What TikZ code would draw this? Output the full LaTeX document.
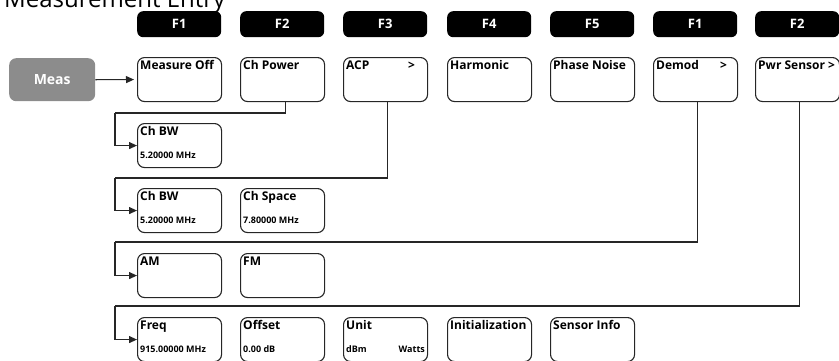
\documentclass[tikz,border=0pt]{standalone}
\usepackage{fontspec}
\setmainfont{Open Sans}
\usetikzlibrary{arrows.meta}
\tikzset{
  fkey/.style={fill=black, rounded corners=6pt, minimum width=84pt, minimum height=26pt, inner sep=0pt,
    text=white, font=\bfseries\fontsize{13}{13}\selectfont, anchor=north west},
  softkey/.style={draw=black!85, line width=1.1pt, rounded corners=7pt, minimum width=84pt, minimum height=44pt,
    inner sep=0pt, anchor=north west},
  lineone/.style={anchor=base west, inner sep=0pt, font=\bfseries\fontsize{12}{12}\selectfont},
  linetwo/.style={anchor=base west, inner sep=0pt, font=\bfseries\fontsize{9}{9}\selectfont},
  conn/.style={draw=black!85, line width=1.1pt},
  arr/.style={conn, -{Triangle[length=8pt,width=7pt]}},
}
\newcommand\skey[5]{%
  \node[softkey] (#1) at (#2,#3) {};
  \node[lineone] (#1-a) at ([shift={(3,12.5)}]#1.north west) {#4};
  \node[linetwo] (#1-b) at ([shift={(3,35)}]#1.north west) {#5};
}
\begin{document}
\begin{tikzpicture}[x=1pt,y=-1pt]
\useasboundingbox (0,0) rectangle (839,360);
\clip (0,0) rectangle (839,360);
\node[anchor=base west, inner sep=0pt, font=\fontsize{24}{24}\selectfont] (title) at (4,7) {Measurement Entry};
% function keys
\node[fkey] (f1) at (137,11) {F1};
\node[fkey] (f2) at (240,11) {F2};
\node[fkey] (f3) at (343,11) {F3};
\node[fkey] (f4) at (447,11) {F4};
\node[fkey] (f5) at (550,11) {F5};
\node[fkey] (f1b) at (653,11) {F1};
\node[fkey] (f2b) at (755,11) {F2};
% meas
\node[fill=black!45, rounded corners=7pt, minimum width=86pt, minimum height=43pt, inner sep=0pt,
  anchor=north west, text=white, font=\bfseries\fontsize{14}{14}\selectfont] (meas) at (9,58) {Meas};
% row 1
\skey{mo}{137}{57}{Measure Off}{}
\skey{cp}{240}{57}{Ch Power}{}
\skey{acp}{343}{57}{ACP}{}
\node[lineone, anchor=base east] (acp-g) at ([shift={(-13,12.5)}]acp.north east) {>};
\skey{hm}{447}{57}{Harmonic}{}
\skey{pn}{550}{57}{Phase Noise}{}
\skey{dm}{653}{57}{Demod}{}
\node[lineone, anchor=base east] (dm-g) at ([shift={(-11,12.5)}]dm.north east) {>};
\skey{ps}{755}{57}{Pwr Sensor >}{}
% row 2
\skey{bwa}{137}{123}{Ch BW}{5.20000 MHz}
% row 3
\skey{bwb}{137}{188}{Ch BW}{5.20000 MHz}
\skey{cs}{240}{188}{Ch Space}{7.80000 MHz}
% row 4
\skey{am}{137}{253}{AM}{}
\skey{fm}{240}{253}{FM}{}
% row 5
\skey{fr}{137}{317}{Freq}{915.00000 MHz}
\skey{of}{240}{317}{Offset}{0.00 dB}
\skey{un}{343}{317}{Unit}{dBm}
\node[linetwo, anchor=base east] (un-c) at ([shift={(-3,35)}]un.north east) {Watts};
\skey{in}{447}{317}{Initialization}{}
\skey{si}{550}{317}{Sensor Info}{}
% connectors
\coordinate (k1) at (115,113);
\coordinate (k2) at (115,178);
\coordinate (k3) at (115,242);
\coordinate (k4) at (115,306);
\draw[arr, shorten >=3pt] (meas.east) -- (mo.west);
\draw[conn] ([xshift=3pt]cp.south) |- (k1);
\draw[arr] (k1) |- (bwa.west);
\draw[conn] ([xshift=2pt]acp.south) |- (k2);
\draw[arr] (k2) |- (bwb.west);
\draw[conn] ([xshift=2pt]dm.south) |- (k3);
\draw[arr] (k3) |- (am.west);
\draw[conn] ([xshift=2pt]ps.south) |- (k4);
\draw[arr] (k4) |- (fr.west);
\end{tikzpicture}
\end{document}
